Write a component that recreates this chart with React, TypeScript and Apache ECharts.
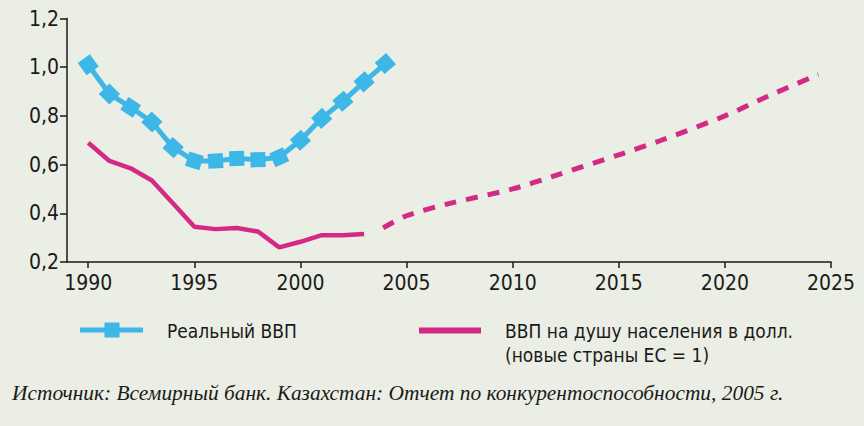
import React, { useEffect, useRef } from "react";
import * as echarts from "echarts";

const realYears = [1990, 1991, 1992, 1993, 1994, 1995, 1996, 1997, 1998, 1999, 2000, 2001, 2002, 2003, 2004];
const realGdp = [1.01, 0.89, 0.835, 0.775, 0.67, 0.615, 0.615, 0.625, 0.62, 0.63, 0.7, 0.79, 0.86, 0.94, 1.015];

const perCapYears = [1990, 1991, 1992, 1993, 1994, 1995, 1996, 1997, 1998, 1999, 2000, 2001, 2002, 2003];
const perCapGdp = [0.69, 0.615, 0.585, 0.535, 0.44, 0.345, 0.335, 0.34, 0.325, 0.26, 0.283, 0.31, 0.31, 0.315];

const forecastYears = [2003.9, 2005, 2007, 2010, 2012, 2015, 2017, 2020, 2022, 2024.4];
const forecastGdp = [0.34, 0.39, 0.44, 0.5, 0.555, 0.64, 0.7, 0.8, 0.88, 0.97];

const xTicks = [1990, 1995, 2000, 2005, 2010, 2015, 2020, 2025];

const nameReal = "Реальный ВВП";
const namePerCap = "ВВП на душу населения в долл.";
const namePerCapLine2 = "(новые страны ЕС = 1)";
const sourceText = "Источник: Всемирный банк. Казахстан: Отчет по конкурентоспособности, 2005 г.";

const BLUE = "#3db6e8";
const PINK = "#d42a86";
const NARROW = "'Liberation Sans Narrow', 'DejaVu Sans Condensed', 'Roboto Condensed', sans-serif";
const INK = "#1a1a1a";

export default function App() {
  const ref = useRef<HTMLDivElement>(null);
  useEffect(() => {
    if (!ref.current) return;
    const chart = echarts.init(ref.current, null, { renderer: "svg" });
    const zip = (xs: number[], ys: number[]) => xs.map((x, i) => [x, ys[i]]);
    const realData = zip(realYears, realGdp);
    // rotate squares along the line direction (approx. pixel aspect of the plot)
    const pxPerYear = 21.2;
    const pxPerUnit = 243.5;
    const rot = (_v: any, p: any) => {
      const i = p.dataIndex;
      const a = realData[Math.max(0, i - 1)];
      const b = realData[Math.min(realData.length - 1, i + 1)];
      const dx = (b[0] - a[0]) * pxPerYear;
      const dy = (b[1] - a[1]) * pxPerUnit;
      return (Math.atan2(dy, dx) * 180) / Math.PI;
    };
    const legendFont = `19px ${NARROW}`;
    chart.setOption({
      animation: false,
      backgroundColor: "#eaeee4",
      grid: { left: 67, right: 33, top: 18.5, bottom: 164 },
      xAxis: {
        type: "value",
        min: 1989,
        max: 2025,
        axisLine: { show: true, lineStyle: { color: INK, width: 1.5 } },
        axisTick: { show: true, length: 6, customValues: xTicks, lineStyle: { color: INK, width: 1.5 } },
        axisLabel: {
          customValues: xTicks,
          color: INK,
          fontFamily: NARROW,
          fontSize: 21,
          margin: 10,
          formatter: (v: number) => String(v),
        },
        splitLine: { show: false },
      },
      yAxis: {
        type: "value",
        min: 0.2,
        max: 1.2,
        interval: 0.2,
        axisLine: { show: true, lineStyle: { color: INK, width: 1.5 } },
        axisTick: { show: true, length: 7, lineStyle: { color: INK, width: 1.5 } },
        axisLabel: {
          color: INK,
          fontFamily: NARROW,
          fontSize: 21,
          margin: 8,
          formatter: (v: number) => v.toFixed(1).replace(".", ","),
        },
        splitLine: { show: false },
      },
      graphic: [
        // legend: real GDP
        {
          type: "line",
          shape: { x1: 80, y1: 330, x2: 143, y2: 330 },
          style: { stroke: BLUE, lineWidth: 5 },
        },
        {
          type: "rect",
          shape: { x: 104.5, y: 322.5, width: 15, height: 15 },
          style: { fill: BLUE },
        },
        {
          type: "text",
          x: 167,
          y: 331,
          style: { text: nameReal, font: legendFont, fill: INK, verticalAlign: "middle" },
        },
        // legend: GDP per capita
        {
          type: "rect",
          shape: { x: 419, y: 327.5, width: 62, height: 6 },
          style: { fill: PINK },
        },
        {
          type: "text",
          x: 505,
          y: 331,
          style: { text: namePerCap, font: legendFont, fill: INK, verticalAlign: "middle" },
        },
        {
          type: "text",
          x: 505,
          y: 355,
          style: { text: namePerCapLine2, font: legendFont, fill: INK, verticalAlign: "middle" },
        },
        // source
        {
          type: "text",
          x: 12,
          y: 393,
          style: {
            text: sourceText,
            font: "italic 21.4px 'Liberation Serif', 'DejaVu Serif', serif",
            fill: INK,
            verticalAlign: "middle",
          },
        },
      ],
      series: [
        {
          name: nameReal,
          type: "line",
          data: realData,
          symbol: "rect",
          symbolSize: 15,
          symbolRotate: rot,
          showAllSymbol: true,
          itemStyle: { color: BLUE },
          lineStyle: { color: BLUE, width: 5 },
          z: 3,
        },
        {
          name: namePerCap,
          type: "line",
          data: zip(perCapYears, perCapGdp),
          symbol: "none",
          itemStyle: { color: PINK },
          lineStyle: { color: PINK, width: 4.5 },
          z: 2,
        },
        {
          name: "forecast",
          type: "line",
          data: zip(forecastYears, forecastGdp),
          symbol: "none",
          smooth: 0.3,
          itemStyle: { color: PINK },
          lineStyle: { color: PINK, width: 5, type: [12, 10] },
          z: 2,
        },
      ],
    });
    return () => chart.dispose();
  }, []);
  return (
    <div
      ref={ref}
      style={{ position: "fixed", left: 0, top: 0, width: 864, height: 426 }}
    />
  );
}
